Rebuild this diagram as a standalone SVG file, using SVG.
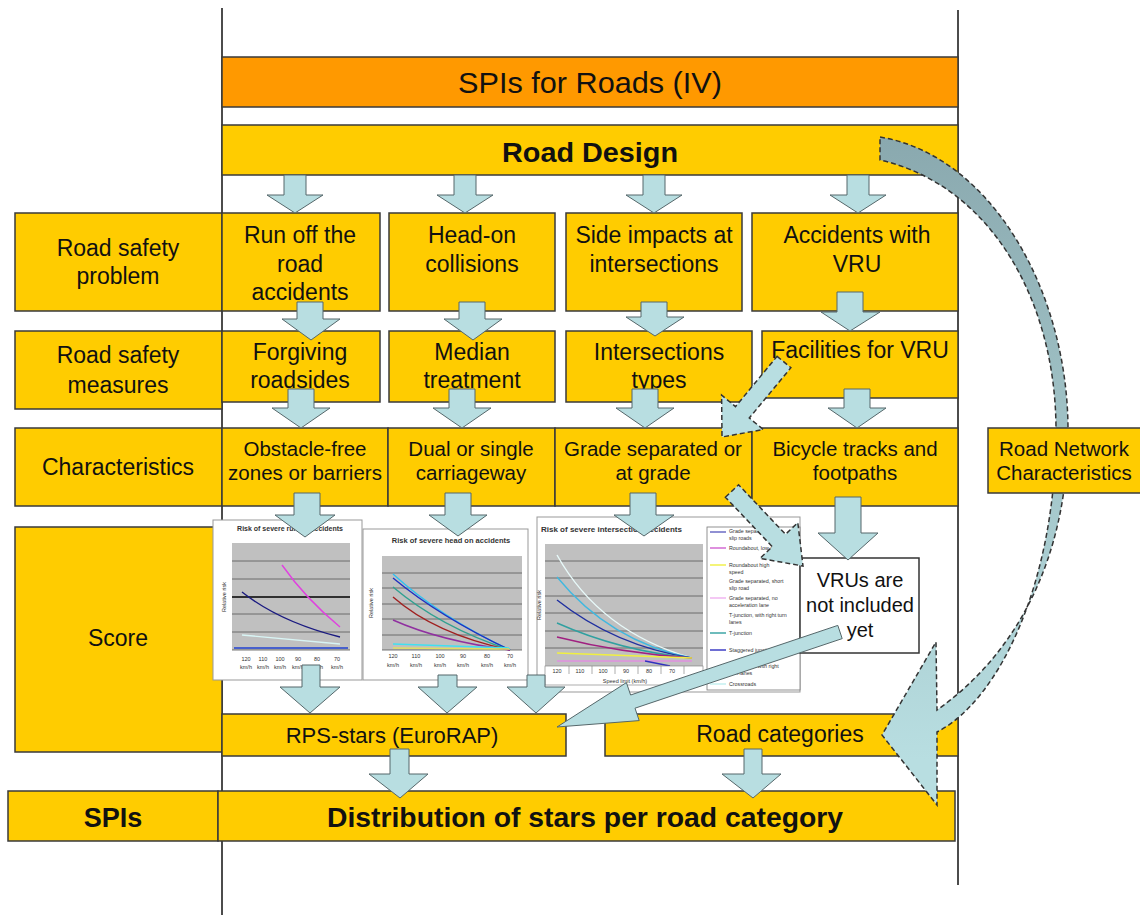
<svg xmlns="http://www.w3.org/2000/svg" width="1140" height="915" viewBox="0 0 1140 915">
<defs>
<style>
.box{fill:#FFCC00;stroke:#3a3a3a;stroke-width:1.5}
.title{fill:#FF9900;stroke:#3a3a3a;stroke-width:1.5}
.t{font-family:"Liberation Sans",Arial,sans-serif;fill:#111;text-anchor:middle}
.arr{fill:#B8DEE1;stroke:#55676a;stroke-width:1}
.darr{fill:#B8DEE1;stroke:#333;stroke-width:1.5;stroke-dasharray:5 3}
.vline{stroke:#111;stroke-width:1.5}
.cbox{fill:#fff;stroke:#999;stroke-width:1}
.plot{fill:#C0C0C0}
.grid{stroke:#555;stroke-width:0.8}
.ct{font-family:"Liberation Sans",Arial,sans-serif;fill:#333}
.cl{fill:none;stroke-width:1.4}
</style>
<linearGradient id="curveg" gradientUnits="userSpaceOnUse" x1="0" y1="140" x2="0" y2="760">
<stop offset="0" stop-color="#8AA9AF"/>
<stop offset="0.5" stop-color="#A2C4C8"/>
<stop offset="1" stop-color="#B8DEE1"/>
</linearGradient>
</defs>

<g id="frame-lines">
<line class="vline" x1="222" y1="8" x2="222" y2="915"/>
<line class="vline" x1="958" y1="10" x2="958" y2="885"/>
</g>

<g id="title"><rect class="title" x="222" y="57" width="736" height="50"/><text class="t" x="590" y="93" font-size="30" textLength="264" lengthAdjust="spacingAndGlyphs">SPIs for Roads (IV)</text></g>
<g id="road-design"><rect class="box" x="222" y="125" width="736" height="50"/><text class="t" x="590" y="162" font-size="28" font-weight="bold" textLength="176" lengthAdjust="spacingAndGlyphs">Road Design</text></g>

<g id="lbl-problem"><rect class="box" x="15" y="213" width="207" height="98"/><text class="t" x="118" y="256" font-size="23">Road safety</text><text class="t" x="118" y="284" font-size="23">problem</text></g>
<g id="p1"><rect class="box" x="222" y="213" width="158" height="98"/><text class="t" x="300" y="243" font-size="23">Run off the</text><text class="t" x="300" y="272" font-size="23">road</text><text class="t" x="300" y="300" font-size="23">accidents</text></g>
<g id="p2"><rect class="box" x="389" y="213" width="166" height="98"/><text class="t" x="472" y="243" font-size="23">Head-on</text><text class="t" x="472" y="272" font-size="23">collisions</text></g>
<g id="p3"><rect class="box" x="566" y="213" width="176" height="98"/><text class="t" x="654" y="243" font-size="23">Side impacts at</text><text class="t" x="654" y="272" font-size="23">intersections</text></g>
<g id="p4"><rect class="box" x="752" y="213" width="206" height="98"/><text class="t" x="857" y="243" font-size="23">Accidents with</text><text class="t" x="857" y="272" font-size="23">VRU</text></g>

<g id="lbl-measures"><rect class="box" x="15" y="331" width="207" height="78"/><text class="t" x="118" y="363" font-size="23">Road safety</text><text class="t" x="118" y="393" font-size="23">measures</text></g>
<g id="m1"><rect class="box" x="222" y="331" width="158" height="71"/><text class="t" x="300" y="360" font-size="23">Forgiving</text><text class="t" x="300" y="388" font-size="23">roadsides</text></g>
<g id="m2"><rect class="box" x="389" y="331" width="166" height="71"/><text class="t" x="472" y="360" font-size="23">Median</text><text class="t" x="472" y="388" font-size="23">treatment</text></g>
<g id="m3"><rect class="box" x="566" y="331" width="186" height="71"/><text class="t" x="659" y="360" font-size="23">Intersections</text><text class="t" x="659" y="388" font-size="23">types</text></g>
<g id="m4"><rect class="box" x="762" y="331" width="196" height="67"/><text class="t" x="860" y="358" font-size="23">Facilities for VRU</text></g>

<g id="lbl-char"><rect class="box" x="15" y="428" width="207" height="78"/><text class="t" x="118" y="475" font-size="23">Characteristics</text></g>
<g id="c1"><rect class="box" x="222" y="428" width="166" height="78"/><text class="t" x="305" y="456" font-size="20.5">Obstacle-free</text><text class="t" x="305" y="480" font-size="20.5">zones or barriers</text></g>
<g id="c2"><rect class="box" x="388" y="428" width="167" height="78"/><text class="t" x="471" y="456" font-size="20.5">Dual or single</text><text class="t" x="471" y="480" font-size="20.5">carriageway</text></g>
<g id="c3"><rect class="box" x="555" y="428" width="197" height="78"/><text class="t" x="653" y="456" font-size="20.5">Grade separated or</text><text class="t" x="653" y="480" font-size="20.5">at grade</text></g>
<g id="c4"><rect class="box" x="752" y="428" width="206" height="78"/><text class="t" x="855" y="456" font-size="20.5">Bicycle tracks and</text><text class="t" x="855" y="480" font-size="20.5">footpaths</text></g>

<g id="lbl-score"><rect class="box" x="15" y="527" width="207" height="225"/><text class="t" x="118" y="646" font-size="23">Score</text></g>

<g id="rps"><rect class="box" x="222" y="714" width="344" height="42"/><text class="t" x="392" y="743" font-size="22">RPS-stars (EuroRAP)</text></g>
<g id="roadcat"><rect class="box" x="605" y="714" width="353" height="42"/><text class="t" x="780" y="742" font-size="23">Road categories</text></g>

<g id="lbl-spis"><rect class="box" x="8" y="791" width="210" height="50"/><text class="t" x="113" y="827" font-size="27" font-weight="bold">SPIs</text></g>
<g id="distribution"><rect class="box" x="218" y="791" width="737" height="50"/><text class="t" x="585" y="827" font-size="28" font-weight="bold" textLength="516" lengthAdjust="spacingAndGlyphs">Distribution of stars per road category</text></g>

<g id="chart1">
<rect class="cbox" x="213" y="520" width="149" height="160"/>
<text class="ct" x="290" y="531" font-size="7" font-weight="bold" text-anchor="middle">Risk of severe run off accidents</text>
<rect class="plot" x="232" y="543" width="118" height="107"/>
<g class="grid"><line x1="232" y1="561" x2="350" y2="561"/><line x1="232" y1="579" x2="350" y2="579"/><line x1="232" y1="597" x2="350" y2="597" stroke="#000" stroke-width="1.3"/><line x1="232" y1="614" x2="350" y2="614"/><line x1="232" y1="632" x2="350" y2="632"/><line x1="232" y1="650" x2="350" y2="650"/></g>
<path class="cl" stroke="#E040E0" d="M282,565 Q305,598 340,627"/>
<path class="cl" stroke="#1A1A80" d="M242,592 Q280,622 340,637"/>
<path class="cl" stroke="#D8F4F4" stroke-width="2" d="M242,635 L340,644"/>
<path class="cl" stroke="#2040D0" stroke-width="2" d="M234,648 L348,648"/>
<text class="ct" font-size="5.5" text-anchor="middle" transform="translate(226,597) rotate(-90)">Relative risk</text>
<g class="ct" font-size="5.5" text-anchor="middle"><text x="246" y="661">120</text><text x="263" y="661">110</text><text x="280" y="661">100</text><text x="298" y="661">90</text><text x="317" y="661">80</text><text x="337" y="661">70</text><text x="246" y="669">km/h</text><text x="263" y="669">km/h</text><text x="280" y="669">km/h</text><text x="298" y="669">km/h</text><text x="317" y="669">km/h</text><text x="337" y="669">km/h</text></g>
</g>

<g id="chart2">
<rect class="cbox" x="363" y="529" width="165" height="151"/>
<text class="ct" x="451" y="543" font-size="7.5" font-weight="bold" text-anchor="middle">Risk of severe head on accidents</text>
<rect class="plot" x="382" y="556" width="140" height="94"/>
<g class="grid"><line x1="382" y1="573" x2="522" y2="573"/><line x1="382" y1="588" x2="522" y2="588"/><line x1="382" y1="604" x2="522" y2="604"/><line x1="382" y1="619" x2="522" y2="619"/><line x1="382" y1="635" x2="522" y2="635"/><line x1="382" y1="650" x2="522" y2="650"/></g>
<path class="cl" stroke="#30C0F0" stroke-width="3" d="M393,574 Q440,617 510,650"/>
<path class="cl" stroke="#2030C0" d="M393,578 Q440,617 510,650"/>
<path class="cl" stroke="#30A090" d="M393,587 Q440,627 510,650"/>
<path class="cl" stroke="#A02020" d="M393,597 Q435,634 510,650"/>
<path class="cl" stroke="#9030A0" d="M393,620 Q440,641 510,650"/>
<path class="cl" stroke="#40E0F0" d="M393,644 L510,648"/>
<path class="cl" stroke="#E0E060" d="M393,648 L510,649"/>
<text class="ct" font-size="5.5" text-anchor="middle" transform="translate(373,603) rotate(-90)">Relative risk</text>
<g class="ct" font-size="5.5" text-anchor="middle"><text x="393" y="658">120</text><text x="416" y="658">110</text><text x="440" y="658">100</text><text x="463" y="658">90</text><text x="487" y="658">80</text><text x="510" y="658">70</text><text x="393" y="667">km/h</text><text x="416" y="667">km/h</text><text x="440" y="667">km/h</text><text x="463" y="667">km/h</text><text x="487" y="667">km/h</text><text x="510" y="667">km/h</text></g>
</g>

<g id="chart3">
<rect class="cbox" x="537" y="517" width="263" height="175"/>
<text class="ct" x="541" y="532" font-size="8" font-weight="bold">Risk of severe intersection accidents</text>
<rect class="plot" x="545" y="544" width="158" height="122"/>
<g class="grid"><line x1="545" y1="561" x2="703" y2="561"/><line x1="545" y1="578" x2="703" y2="578"/><line x1="545" y1="596" x2="703" y2="596"/><line x1="545" y1="613" x2="703" y2="613"/><line x1="545" y1="631" x2="703" y2="631"/><line x1="545" y1="648" x2="703" y2="648"/></g>
<path class="cl" stroke="#E8FAFA" d="M557,555 Q600,632 692,658"/>
<path class="cl" stroke="#40B8E0" d="M557,577 Q610,642 692,658"/>
<path class="cl" stroke="#2030A0" d="M557,600 Q615,646 692,658"/>
<path class="cl" stroke="#30A0A0" d="M557,623 Q620,651 692,658"/>
<path class="cl" stroke="#A02080" d="M557,637 Q620,653 692,658"/>
<path class="cl" stroke="#F0F040" stroke-width="2" d="M557,653 L692,658"/>
<path class="cl" stroke="#E090E0" d="M557,661 L692,661"/>
<path class="cl" stroke="#3030C0" d="M645,661 L670,666"/>
<rect x="545" y="666" width="158" height="19" fill="#fff" stroke="#777" stroke-width="0.6"/>
<g stroke="#777" stroke-width="0.6"><line x1="569" y1="666" x2="569" y2="674"/><line x1="592" y1="666" x2="592" y2="674"/><line x1="615" y1="666" x2="615" y2="674"/><line x1="638" y1="666" x2="638" y2="674"/><line x1="661" y1="666" x2="661" y2="674"/><line x1="684" y1="666" x2="684" y2="674"/></g>
<g class="ct" font-size="5.5" text-anchor="middle"><text x="557" y="673">120</text><text x="580" y="673">110</text><text x="603" y="673">100</text><text x="626" y="673">90</text><text x="649" y="673">80</text><text x="672" y="673">70</text><text x="625" y="683">Speed limit (km/h)</text></g>
<text class="ct" font-size="5.5" text-anchor="middle" transform="translate(541,605) rotate(-90)">Relative risk</text>
<rect x="707" y="527" width="93" height="163" fill="#fff" stroke="#777" stroke-width="0.8"/>
<g class="cl" stroke-width="1.4">
<line x1="710" y1="532" x2="726" y2="532" stroke="#6060C0"/>
<line x1="710" y1="548" x2="726" y2="548" stroke="#D060D0"/>
<line x1="710" y1="565" x2="726" y2="565" stroke="#F0F040"/>
<line x1="710" y1="598" x2="726" y2="598" stroke="#F0B0F0"/>
<line x1="710" y1="633" x2="726" y2="633" stroke="#30A0A0"/>
<line x1="710" y1="650" x2="726" y2="650" stroke="#3030C0"/>
<line x1="710" y1="684" x2="726" y2="684" stroke="#C0F0F0"/>
</g>
<g class="ct" font-size="5.3">
<text x="729" y="533">Grade separated, long</text><text x="729" y="540">slip roads</text>
<text x="729" y="550">Roundabout, low speed</text>
<text x="729" y="567">Roundabout high</text><text x="729" y="574">speed</text>
<text x="729" y="583">Grade separated, short</text><text x="729" y="590">slip road</text>
<text x="729" y="600">Grade separated, no</text><text x="729" y="607">acceleration lane</text>
<text x="729" y="617">T-junction, with right turn</text><text x="729" y="624">lanes</text>
<text x="729" y="635">T-junction</text>
<text x="729" y="652">Staggered junction</text>
<text x="729" y="668">Crossroads with right</text><text x="729" y="675">turn lanes</text>
<text x="729" y="686">Crossroads</text>
</g>
</g>

<g id="vrus"><rect x="800" y="558" width="119" height="95" fill="#fff" stroke="#333" stroke-width="1.5"/><text class="t" x="860" y="587" font-size="20">VRUs are</text><text class="t" x="860" y="612" font-size="20">not included</text><text class="t" x="860" y="637" font-size="20">yet</text></g>

<g id="connectors">
<!-- Road Design to problems -->
<path class="arr" d="M284,175 H306 V195 H323 L295,213 L267,195 H284 Z"/>
<path class="arr" d="M454,175 H476 V195 H493 L465,213 L437,195 H454 Z"/>
<path class="arr" d="M643,175 H665 V195 H682 L654,213 L626,195 H643 Z"/>
<path class="arr" d="M847,175 H869 V195 H886 L858,213 L830,195 H847 Z"/>
<!-- problems to measures -->
<path class="arr" d="M297,302 H323 V319 H340 L311,340 L282,319 H297 Z"/>
<path class="arr" d="M459,302 H485 V319 H502 L473,340 L444,319 H459 Z"/>
<path class="arr" d="M641,302 H667 V317 H684 L655,336 L626,317 H641 Z"/>
<path class="arr" d="M837,292 H863 V312 H880 L850,331 L821,312 H837 Z"/>
<!-- measures to characteristics -->
<path class="arr" d="M288,389 H314 V408 H330 L301,428 L272,408 H288 Z"/>
<path class="arr" d="M449,389 H475 V408 H491 L462,428 L433,408 H449 Z"/>
<path class="arr" d="M632,389 H658 V408 H674 L645,428 L616,408 H632 Z"/>
<path class="arr" d="M844,389 H870 V408 H886 L857,428 L828,408 H844 Z"/>
<!-- characteristics to score -->
<path class="arr" d="M294,493 H320 V515 H335 L305,537 L275,515 H294 Z"/>
<path class="arr" d="M445,493 H471 V515 H487 L458,536 L429,515 H445 Z"/>
<path class="arr" d="M630,493 H656 V515 H674 L644,536 L614,515 H630 Z"/>
<path class="arr" d="M835,497 H861 V533 H878 L848,560 L818,533 H835 Z"/>
<!-- score to RPS -->
<path class="arr" d="M302,665 H320 V687 H340 L310,713 L280,687 H302 Z"/>
<path class="arr" d="M438,675 H457 V687 H477 L447,713 L418,687 H438 Z"/>
<path class="arr" d="M527,675 H545 V687 H565 L536,713 L507,687 H527 Z"/>
<!-- RPS / road categories to SPIs -->
<path class="arr" d="M390,749 H409 V774 H428 L400,798 L369,774 H390 Z"/>
<path class="arr" d="M744,749 H762 V774 H781 L753,798 L722,774 H744 Z"/>
<!-- dashed diagonal arrows -->
<path class="darr" d="M777.1,356.3 L790.9,367.7 L749.3,418 L763.2,429.5 L722,437 L721.6,395.1 L735.5,406.6 Z"/>
<path class="darr" d="M725.4,497.2 L738.6,484.8 L785.5,534.3 L797.8,522.6 L803,566 L760,558.4 L772.3,546.7 Z"/>
<!-- solid diagonal VRU -> RPS -->
<path class="arr" d="M842.2,638.6 L635,708.2 L639.2,720.6 L557,727 L626.4,682.6 L630.6,695 L837.8,625.4 Z"/>
<!-- curved arrow from Road Design to Road categories -->
<path d="M880,137 C990,155 1068,290 1068,430 C1068,560 1015,655 937,710 L936,642 L882,735 L937,805 L937,732 C1000,700 1056,580 1056,430 C1056,300 990,185 880,160 Z" fill="url(#curveg)" stroke="#333" stroke-width="1.5" stroke-dasharray="5 3"/>
</g>

<g id="road-network"><rect class="box" x="988" y="428" width="160" height="65"/><text class="t" x="1064" y="456" font-size="20.5">Road Network</text><text class="t" x="1064" y="480" font-size="20.5">Characteristics</text></g>
</svg>
